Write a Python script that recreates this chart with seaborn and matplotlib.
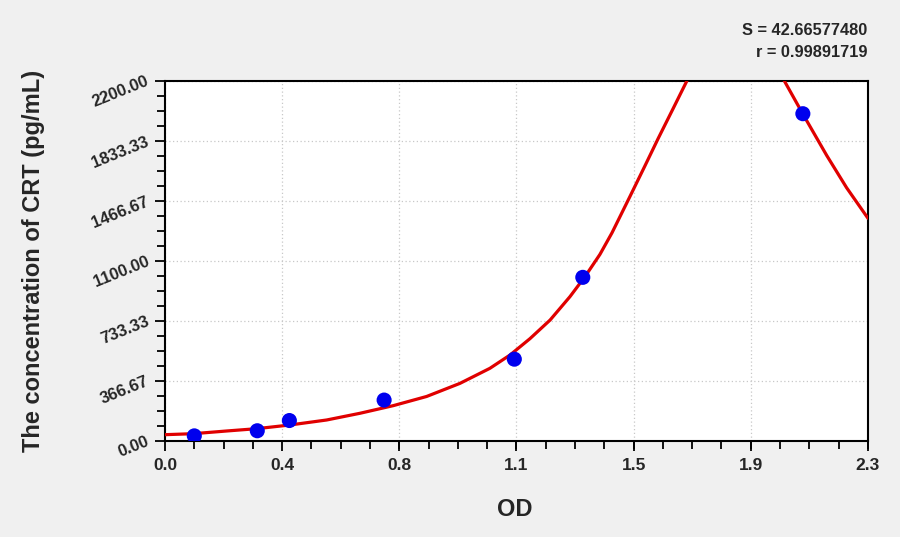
import matplotlib
matplotlib.use("Agg")
import matplotlib.pyplot as plt
import seaborn as sns
import pandas as pd
from matplotlib.ticker import FixedLocator, AutoMinorLocator

# standards (measured points)
od = [0.096, 0.302, 0.407, 0.717, 1.143, 1.367, 2.087]
conc = [31.25, 62.5, 125, 250, 500, 1000, 2000]

# fitted curve (two visible branches; it leaves the top between them)
curve_od_a = [0.000, 0.093, 0.202, 0.300, 0.409, 0.529, 0.638, 0.747, 0.856, 0.965,
              1.063, 1.129, 1.194, 1.260, 1.325, 1.374, 1.423, 1.4625, 1.521, 1.570,
              1.614, 1.663, 1.709]
curve_conc_a = [38.5, 44.6, 61.1, 75.2, 97.8, 128.3, 169.3, 216.0, 272.0, 352.0,
                444.0, 525.5, 625.0, 739.0, 882.0, 1004.0, 1140.0, 1272.0, 1493.0, 1680.0,
                1850.0, 2033.0, 2206.0]
curve_od_b = [2.020, 2.088, 2.165, 2.230, 2.300]
curve_conc_b = [2222.0, 1995.0, 1745.0, 1548.0, 1361.0]

x_ticks = [0.0, 0.3833, 0.7667, 1.15, 1.5333, 1.9167, 2.3]
x_labels = ["0.0", "0.4", "0.8", "1.1", "1.5", "1.9", "2.3"]
y_ticks = [0.0, 366.67, 733.33, 1100.0, 1466.67, 1833.33, 2200.0]
y_labels = ["0.00", "366.67", "733.33", "1100.00", "1466.67", "1833.33", "2200.00"]
stats_text = ["S = 42.66577480", "r = 0.99891719"]

pts = pd.DataFrame({"OD": od, "conc": conc})
curve = pd.DataFrame({
    "OD": curve_od_a + curve_od_b,
    "conc": curve_conc_a + curve_conc_b,
    "branch": ["a"] * len(curve_od_a) + ["b"] * len(curve_od_b),
})

sns.set_theme(style="white")
plt.rcParams["font.family"] = ["Liberation Sans", "DejaVu Sans"]

fig = plt.figure(figsize=(9, 5.37), dpi=100, facecolor="#f0f0f0")
ax = fig.add_axes([0.1833, 0.1788, 0.7811, 0.6704])
ax.set_facecolor("white")

sns.lineplot(data=curve, x="OD", y="conc", units="branch", estimator=None,
             sort=False, color="#e00000", lw=2.3, ax=ax, zorder=3)
sns.scatterplot(data=pts, x="OD", y="conc", ax=ax, color="#0000ee", s=118,
                edgecolor="none", zorder=4)
ax.set_xlim(0, 2.3)
ax.set_ylim(0, 2200)

ax.xaxis.set_major_locator(FixedLocator(x_ticks))
ax.yaxis.set_major_locator(FixedLocator(y_ticks))
ax.set_xticklabels(x_labels, fontsize=12.5, fontweight="bold")
ax.set_yticklabels(y_labels, fontsize=12, fontweight="bold", rotation=22,
                   ha="right", va="center", rotation_mode="anchor")
ax.xaxis.set_minor_locator(AutoMinorLocator(4))
ax.yaxis.set_minor_locator(AutoMinorLocator(4))
ax.tick_params(axis="both", which="major", direction="out", length=7, width=1.3,
               color="black", bottom=True, left=True, pad=5)
ax.tick_params(axis="both", which="minor", direction="out", length=5.5, width=1.3,
               color="black", bottom=True, left=True)
ax.grid(True, which="major", color="#c8c8c8", linestyle=(0, (1, 2)), lw=0.9)
for s in ax.spines.values():
    s.set_color("black")
    s.set_linewidth(1.5)

ax.set_xlabel("OD", fontsize=17, fontweight="bold")
ax.xaxis.set_label_coords(0.498, -0.158)
ax.set_ylabel("The concentration of CRT (pg/mL)", fontsize=17, fontweight="bold")
ax.yaxis.set_label_coords(-0.17, 0.5)

fig.text(0.964, 0.943, stats_text[0], ha="right", va="center", fontsize=11.8, fontweight="bold")
fig.text(0.964, 0.902, stats_text[1], ha="right", va="center", fontsize=11.8, fontweight="bold")

fig.savefig("out.png", dpi=100, facecolor=fig.get_facecolor())
